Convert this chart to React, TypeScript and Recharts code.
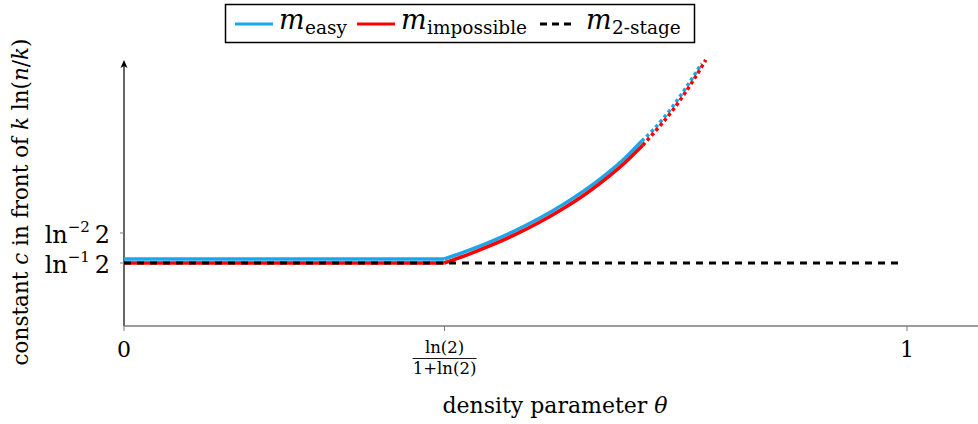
import React from 'react';
import { LineChart, Line, XAxis, YAxis, ReferenceLine, ReferenceDot, Label } from 'recharts';

// x-axis ticks (theta) and their labels
const xTicks = [0, 0.4094, 1];
const xTickLabels = ['0', 'ln(2)/(1+ln(2))', '1'];
// y-axis ticks: ln^-1 2 and ln^-2 2
const yTicks = [1.4427, 2.0814];
const yTickExponents = ['−1', '−2'];

// m_easy (blue)
const easyFlatTheta = [0, 0.409];
const easyFlatValue = [1.528, 1.528];
const easyCurveTheta = [0.409, 0.44, 0.47, 0.5, 0.53, 0.56, 0.59, 0.62, 0.64, 0.6612];
const easyCurveValue = [1.528, 1.71, 1.91, 2.135, 2.39, 2.68, 3.01, 3.39, 3.68, 4.04];
const easyDotTheta = [0.6612, 0.676, 0.7015, 0.7271, 0.7378];
const easyDotValue = [4.04, 4.28, 4.79, 5.41, 5.69];

// m_impossible (red)
const impFlatTheta = [0, 0.409];
const impFlatValue = [1.4427, 1.4427];
const impCurveTheta = [0.409, 0.44, 0.47, 0.5, 0.53, 0.56, 0.59, 0.62, 0.64, 0.6625];
const impCurveValue = [1.4427, 1.628, 1.828, 2.052, 2.304, 2.591, 2.918, 3.296, 3.584, 3.949];
const impDotTheta = [0.6625, 0.676, 0.7015, 0.7271, 0.743];
const impDotValue = [3.949, 4.2, 4.71, 5.33, 5.765];

// m_2-stage (black dashed)
const twoStageTheta = [0, 0.995];
const twoStageValue = [1.4427, 1.4427];

const toData = (xs: number[], ys: number[]) => xs.map((x, i) => ({ x, y: ys[i] }));

const BLUE = '#1ba6eb';
const RED = '#ff0000';
const FONT = 'DejaVu Serif';

const XTick = (props: any) => {
  const { x, y, payload, index } = props;
  const i = typeof index === 'number' ? index : xTicks.indexOf(payload.value);
  if (i === 1) {
    return (
      <g fontFamily={FONT} fill="#000">
        <text x={x} y={y + 20} textAnchor="middle" fontSize={16.5}>ln(2)</text>
        <line x1={x - 32} x2={x + 32} y1={y + 25.5} y2={y + 25.5} stroke="#000" strokeWidth={0.9} />
        <text x={x} y={y + 41} textAnchor="middle" fontSize={16.5}>1+ln(2)</text>
      </g>
    );
  }
  return (
    <text x={x} y={y + 24} textAnchor="middle" fontSize={22} fontFamily={FONT} fill="#000">
      {xTickLabels[i]}
    </text>
  );
};

const YTick = (props: any) => {
  const { x, y, payload, index } = props;
  const i = typeof index === 'number' ? index : yTicks.indexOf(payload.value);
  return (
    <text x={x} y={y + 10} textAnchor="end" fontSize={24} fontFamily={FONT} fill="#000">
      <tspan>ln</tspan>
      <tspan fontSize={15} dy={-11}>{yTickExponents[i]}</tspan>
      <tspan fontSize={24} dy={11}>{'\u2009'}2</tspan>
    </text>
  );
};

const XTitle = (props: any) => {
  const vb = props.viewBox || { x: 124, y: 326, width: 854, height: 98 };
  return (
    <text x={vb.x + vb.width / 2 + 4} y={vb.y + 87} textAnchor="middle" fontSize={22} fontFamily={FONT} fill="#000">
      density parameter <tspan fontStyle="italic">θ</tspan>
    </text>
  );
};

const YTitle = () => {
  const cx = 20;
  const cy = 202;
  return (
    <text
      x={cx}
      y={cy}
      transform={`rotate(-90 ${cx} ${cy})`}
      textAnchor="middle"
      dominantBaseline="central"
      fontSize={21.5}
      fontFamily={FONT}
      fill="#000"
    >
      constant <tspan fontStyle="italic">c</tspan> in front of <tspan fontStyle="italic">k</tspan> ln(<tspan fontStyle="italic">n</tspan>/<tspan fontStyle="italic">k</tspan>)
    </text>
  );
};

const Arrow = (props: any) => {
  const { cx, cy } = props;
  return <path d={`M${cx},${cy} L${cx - 3.5},${cy + 8} L${cx},${cy + 6} L${cx + 3.5},${cy + 8} Z`} fill="#000" />;
};

const LegendBox = () => (
  <svg width={978} height={50} style={{ position: 'absolute', left: 0, top: 0, pointerEvents: 'none' }}>
    <rect x={225.5} y={4.5} width={469} height={38} fill="#fff" stroke="#000" strokeWidth={1.5} />
    <line x1={235} x2={273} y1={24} y2={24} stroke={BLUE} strokeWidth={3} />
    <text x={279} y={29} fontSize={27} fontStyle="italic" fontFamily={FONT}>m</text>
    <text x={305} y={34} fontSize={18.5} fontFamily={FONT}>easy</text>
    <line x1={357} x2={395} y1={24} y2={24} stroke={RED} strokeWidth={3} />
    <text x={401} y={29} fontSize={27} fontStyle="italic" fontFamily={FONT}>m</text>
    <text x={427} y={34} fontSize={18.5} fontFamily={FONT}>impossible</text>
    <line x1={540} x2={574} y1={24} y2={24} stroke="#000" strokeWidth={3.2} strokeDasharray="7 5" />
    <text x={586} y={29} fontSize={27} fontStyle="italic" fontFamily={FONT}>m</text>
    <text x={612} y={34} fontSize={18.5} fontFamily={FONT}>2-stage</text>
  </svg>
);

export default function App() {
  return (
    <div style={{ position: 'absolute', left: 0, top: 0, width: 978, height: 424, background: '#fff' }}>
      <LineChart width={978} height={424} margin={{ top: 55, right: 0, bottom: 0, left: 0 }}>
        <XAxis
          type="number"
          dataKey="x"
          domain={[0, 1.0907]}
          ticks={xTicks}
          interval={0}
          height={98}
          allowDataOverflow
          axisLine={{ stroke: '#7a7a7a', strokeWidth: 1.5 }}
          tickLine={{ stroke: '#7a7a7a' }}
          tickSize={5}
          tickMargin={2}
          tick={<XTick />}
        >
          <Label content={<XTitle />} />
        </XAxis>
        <YAxis
          type="number"
          dataKey="y"
          domain={[0.1014, 5.871]}
          ticks={yTicks}
          interval={0}
          width={124}
          allowDataOverflow
          axisLine={false}
          tickLine={{ stroke: '#7a7a7a' }}
          tickSize={4}
          tickMargin={10}
          tick={<YTick />}
        >
          <Label content={<YTitle />} />
        </YAxis>
        <ReferenceLine
          segment={[{ x: 0, y: 0.1014 }, { x: 0, y: 5.7 }]}
          stroke="#000"
          strokeWidth={1.2}
          ifOverflow="visible"
        />
        <ReferenceDot x={0} y={5.765} r={0} ifOverflow="visible" shape={<Arrow />} />

        <Line data={toData(easyFlatTheta, easyFlatValue)} dataKey="y" type="linear" stroke={BLUE} strokeWidth={3.5} dot={false} isAnimationActive={false} />
        <Line data={toData(easyCurveTheta, easyCurveValue)} dataKey="y" type="monotone" stroke={BLUE} strokeWidth={3.5} dot={false} isAnimationActive={false} />
        <Line data={toData(easyDotTheta, easyDotValue)} dataKey="y" type="monotone" stroke={BLUE} strokeWidth={3.5} strokeDasharray="3.5 3" dot={false} isAnimationActive={false} />

        <Line data={toData(impFlatTheta, impFlatValue)} dataKey="y" type="linear" stroke={RED} strokeWidth={3.5} dot={false} isAnimationActive={false} />
        <Line data={toData(impCurveTheta, impCurveValue)} dataKey="y" type="monotone" stroke={RED} strokeWidth={3.5} dot={false} isAnimationActive={false} />
        <Line data={toData(impDotTheta, impDotValue)} dataKey="y" type="monotone" stroke={RED} strokeWidth={3.5} strokeDasharray="3.5 3" dot={false} isAnimationActive={false} />

        <Line data={toData(twoStageTheta, twoStageValue)} dataKey="y" type="linear" stroke="#000" strokeWidth={3.2} strokeDasharray="7 6" dot={false} isAnimationActive={false} />
      </LineChart>
      <LegendBox />
    </div>
  );
}
